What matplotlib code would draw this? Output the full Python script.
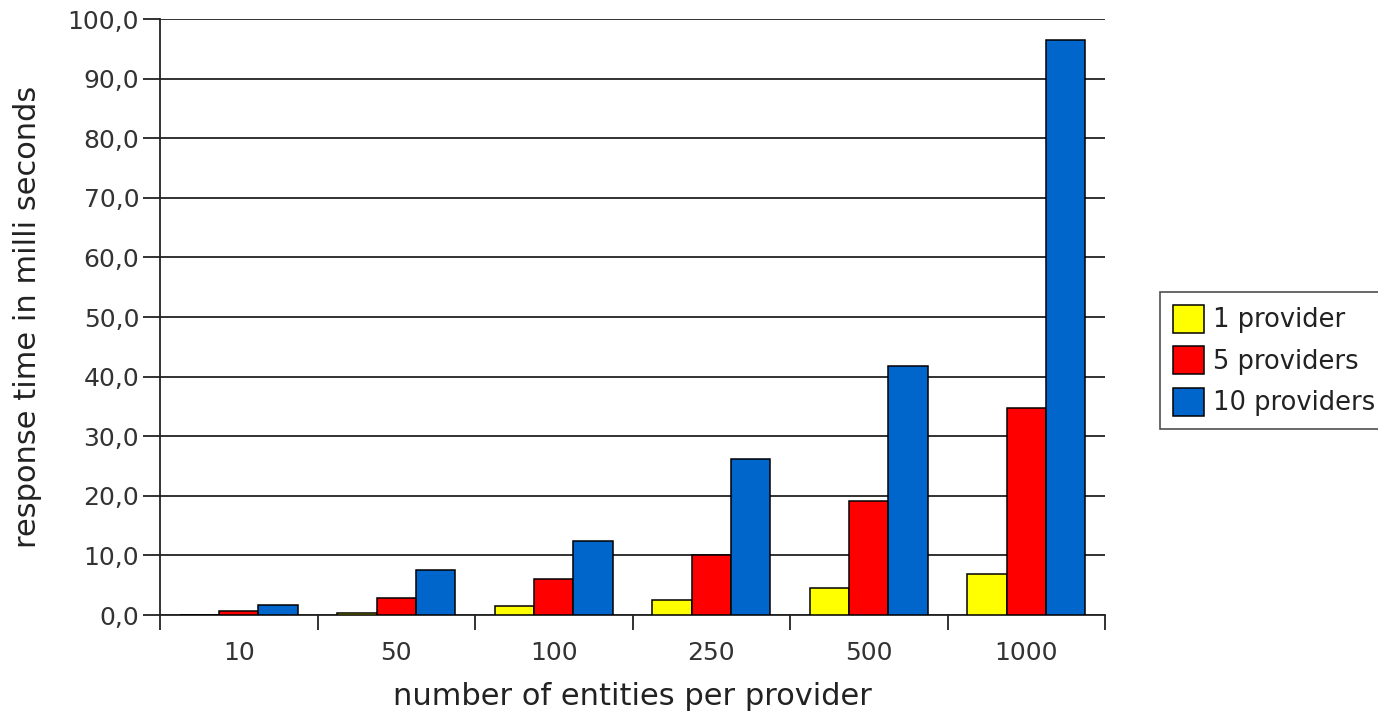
import matplotlib
matplotlib.use("Agg")
import matplotlib.pyplot as plt
import numpy as np
from matplotlib.ticker import FuncFormatter, FixedLocator

# data
categories = ["10", "50", "100", "250", "500", "1000"]
one_provider = [0.0, 0.3, 1.45, 2.6, 4.6, 6.9]
five_providers = [0.6, 2.9, 6.0, 10.1, 19.1, 34.8]
ten_providers = [1.7, 7.5, 12.4, 26.2, 41.8, 96.5]
series_labels = ["1 provider", "5 providers", "10 providers"]
series_colors = ["#FFFF00", "#FF0000", "#0066CC"]

plt.rcParams['font.family'] = ['DejaVu Sans']

fig = plt.figure(figsize=(13.78, 7.18), dpi=100)
ax = fig.add_axes([160 / 1378, 103 / 718, 945 / 1378, 596 / 718])

x = np.arange(len(categories)) + 0.5
width = 0.25
series = [one_provider, five_providers, ten_providers]
for i, (vals, lab, col) in enumerate(zip(series, series_labels, series_colors)):
    ax.bar(x + (i - 1) * width, vals, width, color=col, edgecolor='black',
           linewidth=1.1, label=lab, zorder=3)

ax.set_xlim(0, len(categories))
ax.set_ylim(0, 100)

# y axis
ax.set_yticks(np.arange(0, 101, 10))
ax.yaxis.set_major_formatter(FuncFormatter(lambda v, p: f"{v:.1f}".replace('.', ',')))
ax.tick_params(axis='y', direction='out', length=12, width=1.3, color='#222222',
               labelsize=18, pad=3, labelcolor='#333333')
ax.yaxis.grid(True, color='#222222', linewidth=1.3, zorder=0)

# x axis: labels at group centres, ticks at group boundaries
ax.xaxis.set_major_locator(FixedLocator(x))
ax.set_xticklabels(categories)
ax.xaxis.set_minor_locator(FixedLocator(np.arange(len(categories) + 1)))
ax.tick_params(axis='x', which='major', length=0, labelsize=18, pad=19,
               labelcolor='#333333')
ax.tick_params(axis='x', which='minor', direction='out', length=11, width=1.3,
               color='#222222')

for s in ['top', 'right']:
    ax.spines[s].set_visible(False)
for s in ['left', 'bottom']:
    ax.spines[s].set_color('#222222')
    ax.spines[s].set_linewidth(1.3)

ax.set_xlabel("number of entities per provider", fontsize=22, color='#222222')
ax.xaxis.set_label_coords(0.5, -0.113)
ax.set_ylabel("response time in milli seconds", fontsize=22, color='#222222')
ax.yaxis.set_label_coords(-0.125, 0.5)

leg = fig.legend(loc='upper left', bbox_to_anchor=(1160 / 1378, 1 - 292 / 718),
                 fontsize=18.5, frameon=True, fancybox=False, edgecolor='#222222',
                 handlelength=1.2, handleheight=1.3, handletextpad=0.35,
                 labelspacing=0.5, borderpad=0.5, borderaxespad=0)
leg.get_frame().set_linewidth(1.2)
for t in leg.get_texts():
    t.set_color('#222222')

fig.savefig("out.png", dpi=100)
